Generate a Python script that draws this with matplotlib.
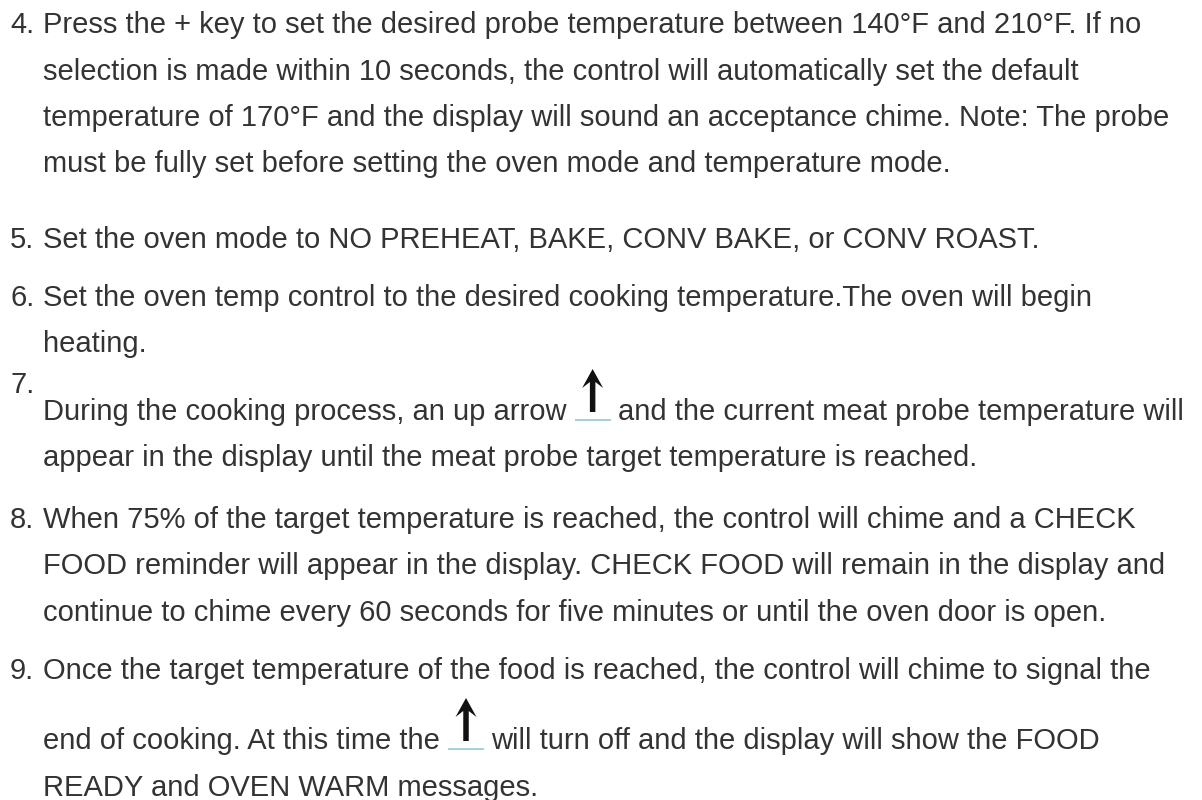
import matplotlib
matplotlib.use("Agg")
import matplotlib.pyplot as plt
from matplotlib.patches import Polygon, Rectangle

# ---- content ----
numbers = ["4.", "5.", "6.", "7.", "8.", "9."]
item4 = ["Press the + key to set the desired probe temperature between 140°F and 210°F. If no",
         "selection is made within 10 seconds, the control will automatically set the default",
         "temperature of 170°F and the display will sound an acceptance chime. Note: The probe",
         "must be fully set before setting the oven mode and temperature mode."]
item5 = ["Set the oven mode to NO PREHEAT, BAKE, CONV BAKE, or CONV ROAST."]
item6 = ["Set the oven temp control to the desired cooking temperature.The oven will begin",
         "heating."]
item7 = [("During the cooking process, an up arrow", "and the current meat probe temperature will"),
         "appear in the display until the meat probe target temperature is reached."]
item8 = ["When 75% of the target temperature is reached, the control will chime and a CHECK",
         "FOOD reminder will appear in the display. CHECK FOOD will remain in the display and",
         "continue to chime every 60 seconds for five minutes or until the oven door is open."]
item9 = ["Once the target temperature of the food is reached, the control will chime to signal the",
         ("end of cooking. At this time the", "will turn off and the display will show the FOOD"),
         "READY and OVEN WARM messages."]

TEXT_COLOR = "#333333"
FONT = "Liberation Sans"
FS = 21.0

fig = plt.figure(figsize=(12.02, 8.0), dpi=100)
ax = fig.add_axes([0, 0, 1, 1])
ax.set_xlim(0, 1202)
ax.set_ylim(800, 0)
ax.axis("off")
fig.canvas.draw()
renderer = fig.canvas.get_renderer()

NUM_X = 10
TXT_X = 43
LS = 46.5   # line spacing inside an item


def put(x, y, s):
    return ax.text(x, y, s, fontsize=FS, family=FONT, color=TEXT_COLOR,
                   va="baseline", ha="left")


def width_px(t):
    return t.get_window_extent(renderer=renderer).width


def arrow_icon(x0, base_y):
    # light-blue underline under the icon
    ax.add_patch(Rectangle((x0, base_y - 1.5), 36, 2.2, color="#a9cfdc", lw=0))
    cx = x0 + 18
    top = base_y - 51
    head_h = 19
    head_w = 21
    stem_w = 5.5
    stem_bot = base_y - 8
    pts = [(cx, top), (cx + head_w / 2, top + head_h), (cx + stem_w / 2, top + head_h - 6),
           (cx + stem_w / 2, stem_bot), (cx - stem_w / 2, stem_bot),
           (cx - stem_w / 2, top + head_h - 6), (cx - head_w / 2, top + head_h)]
    ax.add_patch(Polygon(pts, closed=True, color="#111111", lw=0))


def draw_line(y, line):
    if isinstance(line, tuple):
        left, right = line
        t = put(TXT_X, y, left + " ")
        x_icon = TXT_X + width_px(t)
        arrow_icon(x_icon, y)
        put(x_icon + 36 + 7, y, right)
    else:
        put(TXT_X, y, line)


def draw_item(num, lines, y0):
    put(NUM_X, y0, num)
    for i, ln in enumerate(lines):
        draw_line(y0 + i * LS, ln)


draw_item(numbers[0], item4, 33)
draw_item(numbers[1], item5, 248)
draw_item(numbers[2], item6, 306)
# item 7: the number sits on its own short line above the line with the icon
put(NUM_X, 393, numbers[3])
for i, ln in enumerate(item7):
    draw_line(420 + i * LS, ln)
draw_item(numbers[4], item8, 528)
# item 9: second line is taller because of the inline icon
put(NUM_X, 679, numbers[5])
draw_line(679, item9[0])
draw_line(749, item9[1])
draw_line(749 + LS, item9[2])

fig.savefig("out.png", dpi=100, facecolor="white")
